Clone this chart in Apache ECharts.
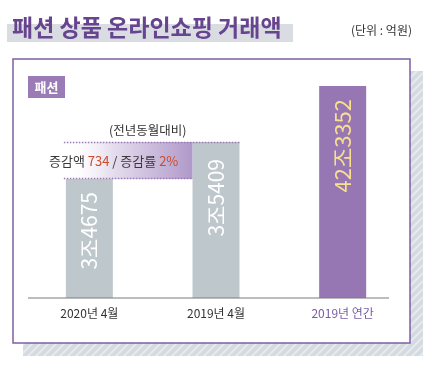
<!DOCTYPE html>
<html><head><meta charset="utf-8">
<script src="https://cdn.jsdelivr.net/npm/echarts@6/dist/echarts.min.js"></script>
<style>html,body{margin:0;padding:0;background:#fff}#c{width:436px;height:368px}</style>
</head><body><div id="c"></div>
<script>
// ---- data ----
const categories = ['2020년 4월', '2019년 4월', '2019년 연간'];
const barLabels = ['3조4675', '3조5409', '42조3352'];
// bar heights as drawn in the infographic (not to scale with the amounts)
const barHeights = [119, 156, 212];
const changeAmount = '734';
const changeRate = '2%';

const FONT = '"Noto Sans CJK KR", "Noto Sans", sans-serif';
const PURPLE = '#9677b4';
const GREY = '#bec7cc';

// hatched shadow pattern
const pc = document.createElement('canvas');
pc.width = 8; pc.height = 8;
const px = pc.getContext('2d');
px.fillStyle = '#d3dbe0'; px.fillRect(0, 0, 8, 8);
px.strokeStyle = '#e6eaed'; px.lineWidth = 2;
px.beginPath();
px.moveTo(0, 8); px.lineTo(8, 0);
px.moveTo(-2, 2); px.lineTo(2, -2);
px.moveTo(6, 10); px.lineTo(10, 6);
px.stroke();

const chart = echarts.init(document.getElementById('c'), null, {renderer: 'canvas'});

const staticGraphics = [
  {type: 'rect', z: -10, shape: {x: 7, y: 24, width: 286, height: 18}, style: {fill: '#d9dde1'}},
  {type: 'text', z: 10, style: {x: 12, y: 27, text: '패션 상품 온라인쇼핑 거래액', fill: '#67448f', font: 'bold 23px ' + FONT, verticalAlign: 'middle'}},
  {type: 'text', style: {x: 412, y: 30, text: '(단위 : 억원)', fill: '#333', font: '12px ' + FONT, align: 'right', verticalAlign: 'middle'}},
  {type: 'rect', z: -9, shape: {x: 23, y: 71, width: 400, height: 285}, style: {fill: {image: pc, repeat: 'repeat'}}},
  {type: 'rect', z: -8, shape: {x: 13, y: 59, width: 397, height: 284}, style: {fill: '#fff', stroke: '#7e5fa4', lineWidth: 1.5}},
  {type: 'rect', shape: {x: 28, y: 76, width: 37, height: 22}, style: {fill: '#9a7bb5'}},
  {type: 'text', style: {x: 46.5, y: 87.5, text: '패션', fill: '#fff', font: 'bold 13px ' + FONT, align: 'center', verticalAlign: 'middle'}},
  {type: 'line', z: 5, shape: {x1: 28, y1: 298, x2: 389, y2: 298}, style: {stroke: '#7a7a7a', lineWidth: 1}}
];

const option = {
  animation: false,
  grid: {left: 26, width: 380, top: 58, height: 240},
  xAxis: {
    type: 'category',
    data: categories.map((c, i) => i === categories.length - 1 ? {value: c, textStyle: {color: '#7b5ba6'}} : c),
    axisLine: {show: false}, axisTick: {show: false},
    axisLabel: {color: '#333', fontSize: 12, fontFamily: FONT, margin: 9}
  },
  yAxis: {type: 'value', min: 0, max: 240, show: false, splitLine: {show: false}},
  series: [{
    type: 'bar',
    barWidth: 47,
    z: 3,
    data: barHeights.map((v, i) => ({
      value: v,
      itemStyle: {color: i === 2 ? PURPLE : GREY},
      label: {
        show: true, formatter: barLabels[i], position: 'insideTop', rotate: 90,
        align: 'right', verticalAlign: 'middle', distance: i === 1 ? 17 : 13,
        color: i === 2 ? '#f8e08c' : '#fff',
        fontSize: i === 2 ? 22 : 21, fontFamily: FONT
      }
    }))
  }],
  graphic: staticGraphics
};
chart.setOption(option);

// annotation band tied to the bars via the chart's scales
const p0 = chart.convertToPixel({gridIndex: 0}, [0, barHeights[0]]);
const p1 = chart.convertToPixel({gridIndex: 0}, [1, barHeights[1]]);
const half = 23.5;
const bx0 = p0[0] - half - 2, bx1 = p1[0] - half, bx2 = p1[0] + half;
const yTop = p1[1], yBot = p0[1];
chart.setOption({
  graphic: staticGraphics.concat([
    {type: 'rect', z: 4, shape: {x: bx0, y: yTop, width: bx1 - bx0, height: yBot - yTop},
      style: {fill: new echarts.graphic.LinearGradient(0, 0, 1, 0, [
        {offset: 0, color: 'rgba(255,255,255,0)'}, {offset: 0.35, color: 'rgba(232,225,240,1)'}, {offset: 1, color: '#b099c9'}])}},
    {type: 'line', z: 6, shape: {x1: bx0, y1: yTop + 0.5, x2: bx2, y2: yTop + 0.5}, style: {stroke: '#9a7bb5', lineWidth: 1.5, lineDash: [1.5, 1.5]}},
    {type: 'line', z: 6, shape: {x1: bx0, y1: yBot - 0.5, x2: bx1, y2: yBot - 0.5}, style: {stroke: '#9a7bb5', lineWidth: 1.5, lineDash: [1.5, 1.5]}},
    {type: 'text', z: 6, style: {x: (bx0 + bx2) / 2 - 4, y: yTop - 12, text: '(전년동월대비)', fill: '#333', font: '12.5px ' + FONT, align: 'center', verticalAlign: 'middle'}},
    {type: 'text', z: 7, style: {x: 49, y: (yTop + yBot) / 2 + 1, verticalAlign: 'middle',
      text: '{a|증감액 }{b|' + changeAmount + '}{a| / 증감률 }{b|' + changeRate + '}',
      rich: {
        a: {fontSize: 13, fontFamily: FONT, fill: '#3a3a3a', color: '#3a3a3a'},
        b: {fontSize: 13, fontFamily: FONT, fill: '#cc4b2b', color: '#cc4b2b'}
      }}}
  ])
});
</script></body></html>
